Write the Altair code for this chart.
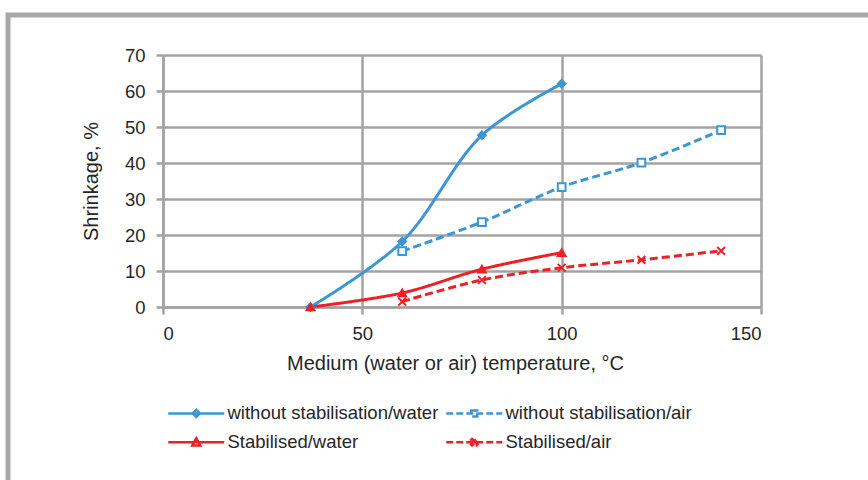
import altair as alt
import pandas as pd

# ---- data ----
series_names = [
    "without stabilisation/water",
    "without stabilisation/air",
    "Stabilised/water",
    "Stabilised/air",
]
temp_water = [37, 60, 80, 100]
temp_air = [60, 80, 100, 120, 140]
shrink_unstab_water = [0, 18.2, 47.7, 62]
shrink_unstab_air = [15.5, 23.6, 33.3, 40.1, 49.1]
shrink_stab_water = [0, 3.9, 10.5, 15.1]
shrink_stab_air = [1.5, 7.5, 10.9, 13.1, 15.6]
x_ticks = [0, 50, 100, 150]
y_ticks = [0, 10, 20, 30, 40, 50, 60, 70]

# ---- styles ----
BLUE = "#3b97d3"
RED = "#ec2027"
GRID = "#a3a3a3"
TEXT = "#262626"
FONT = "Liberation Sans"
colors = [BLUE, BLUE, RED, RED]
dashes = [[1, 0], [8, 4], [1, 0], [8, 4]]
marker_shapes = ["diamond", "square", "triangle-up", "M-1,-1L1,1M-1,1L1,-1"]
marker_fills = [BLUE, "#ffffff", RED, "transparent"]

# legend entries are laid out column by column: reorder so rows read water|air
legend_order = [series_names[0], series_names[2], series_names[1], series_names[3]]
legend_colors = [BLUE, RED, BLUE, RED]
legend_dashes = [[1, 0], [1, 0], [7, 3], [7, 3]]
legend_paths = [
    "M-1,0H13M6,-0.9L6.9,0L6,0.9L5.1,0Z",
    "M-1,0H13M6,-1L7,0.8H5Z",
    "M-1,0H13M5.25,-0.75H6.75V0.75H5.25Z",
    "M-1,0H13M5.2,-0.55L5.45,-0.8L6,-0.25L6.55,-0.8L6.8,-0.55L6.25,0L6.8,0.55"
    "L6.55,0.8L6,0.25L5.45,0.8L5.2,0.55L5.75,0Z",
]

rows = []
for name, xs, ys in [
    (series_names[0], temp_water, shrink_unstab_water),
    (series_names[1], temp_air, shrink_unstab_air),
    (series_names[2], temp_water, shrink_stab_water),
    (series_names[3], temp_air, shrink_stab_air),
]:
    for xv, yv in zip(xs, ys):
        rows.append({"series": name, "series_l": name, "temp": xv, "shrink": yv})
df = pd.DataFrame(rows)

W, H = 598, 252

x_enc = alt.X(
    "temp:Q",
    scale=alt.Scale(domain=[0, 150], nice=False, zero=False),
    axis=alt.Axis(
        values=x_ticks,
        title="Medium (water or air) temperature, °C",
        titleX=292,
        titleY=62,
        titleBaseline="alphabetic",
        titleAlign="center",
        labelPadding=10,
    ),
)
y_enc = alt.Y(
    "shrink:Q",
    scale=alt.Scale(domain=[0, 70], nice=False),
    axis=alt.Axis(
        values=y_ticks,
        title="Shrinkage, %",
        titleX=-66,
        titleY=H / 2,
        titleAngle=270,
        titleBaseline="alphabetic",
        titleAlign="center",
        labelPadding=11,
    ),
)

frame = (
    alt.Chart(alt.Data(values=[{"k": 1}]))
    .mark_rect(filled=False, stroke="#a9a9ab", strokeWidth=5)
    .encode(
        x=alt.value(-155),
        x2=alt.value(W + 300),
        y=alt.value(-40),
        y2=alt.value(H + 300),
    )
)

lines = (
    alt.Chart(df)
    .mark_line(strokeWidth=3, interpolate="catmull-rom")
    .encode(
        x=x_enc,
        y=y_enc,
        color=alt.Color("series:N", scale=alt.Scale(domain=series_names, range=colors), legend=None),
        strokeDash=alt.StrokeDash(
            "series:N", scale=alt.Scale(domain=series_names, range=dashes), legend=None
        ),
    )
)

points = (
    alt.Chart(df)
    .mark_point(size=60, strokeWidth=2, opacity=1)
    .encode(
        x=x_enc,
        y=y_enc,
        shape=alt.Shape("series:N", scale=alt.Scale(domain=series_names, range=marker_shapes), legend=None),
        fill=alt.Fill("series:N", scale=alt.Scale(domain=series_names, range=marker_fills), legend=None),
        stroke=alt.Stroke("series:N", scale=alt.Scale(domain=series_names, range=colors), legend=None),
    )
)

leg = alt.Legend(
    title=None,
    orient="none",
    legendX=0,
    legendY=349,
    columns=2,
    columnPadding=2,
    rowPadding=10,
    symbolSize=64,
    symbolStrokeWidth=2.5,
    labelOffset=46,
    labelLimit=0,
    labelFont=FONT,
    labelFontSize=18.5,
    labelColor=TEXT,
)

legend_layer = (
    alt.Chart(df)
    .mark_point(opacity=0, size=64, strokeWidth=2.5)
    .encode(
        x=x_enc,
        y=y_enc,
        fill=alt.Fill("series_l:N", scale=alt.Scale(domain=legend_order, range=legend_colors), legend=leg),
        stroke=alt.Stroke("series_l:N", scale=alt.Scale(domain=legend_order, range=legend_colors), legend=leg),
        shape=alt.Shape("series_l:N", scale=alt.Scale(domain=legend_order, range=legend_paths), legend=leg),
        strokeDash=alt.StrokeDash(
            "series_l:N", scale=alt.Scale(domain=legend_order, range=legend_dashes), legend=leg
        ),
    )
)

chart = (
    alt.layer(frame, lines, points, legend_layer)
    .resolve_scale(
        color="independent",
        fill="independent",
        stroke="independent",
        shape="independent",
        strokeDash="independent",
    )
    .properties(
        width=W,
        height=H,
        padding={"left": 163, "top": 55, "right": 868 - 163 - W, "bottom": 480 - 55 - H},
        autosize=alt.AutoSizeParams(type="none"),
        background="white",
    )
    .configure_view(strokeWidth=0)
    .configure_axis(
        grid=True,
        gridColor=GRID,
        gridWidth=2.5,
        domainColor=GRID,
        domainWidth=2.5,
        tickColor=GRID,
        tickWidth=2.5,
        tickSize=7,
        labelFont=FONT,
        labelFontSize=18.5,
        labelColor=TEXT,
        titleFont=FONT,
        titleFontSize=20,
        titleFontWeight="normal",
        titleColor=TEXT,
    )
)

chart.save("out.html", embed_options={"renderer": "svg", "actions": False})
